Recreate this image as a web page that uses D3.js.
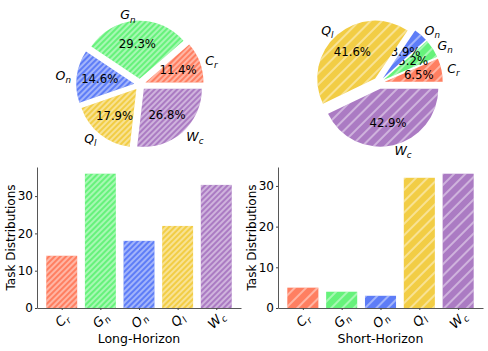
<!DOCTYPE html>
<html><head><meta charset="utf-8">
<script src="https://cdn.jsdelivr.net/npm/d3@7"></script>
<style>body{margin:0;background:#fff}svg{display:block;font-family:"DejaVu Sans",sans-serif}</style>
</head><body><svg id="c" width="488" height="351"></svg>
<script>
const categories = ["C","G","O","Q","W"];
const subscripts = ["r","n","n","l","c"];
const longValues = [14, 36, 18, 22, 33];
const shortValues = [5, 4, 3, 32, 33];
const colors = ["#ff7f61","#66f27b","#5e7df7","#f2cd45","#ab7bc3"];
const yTicks = [0, 10, 20, 30];
const groupTitles = ["Long-Horizon","Short-Horizon"];

const svg = d3.select("#c");
const defs = svg.append("defs");
function hatch(id, s){
  const p = defs.append("pattern").attr("id", id).attr("patternUnits","userSpaceOnUse")
    .attr("width", s).attr("height", s).attr("patternTransform","rotate(45)");
  p.append("line").attr("x1", s/2).attr("x2", s/2).attr("y1", -1).attr("y2", s+1)
    .attr("stroke","#fff").attr("stroke-opacity",0.85).attr("stroke-width",1);
}
hatch("hL", 4);
hatch("hS", 8);

function mathLabel(sel, i, size){
  sel.append("tspan").attr("font-style","italic").text(categories[i]);
  sel.append("tspan").attr("font-style","italic").attr("font-size", size*0.7)
     .attr("dy", size*0.25).text(subscripts[i]);
}

function pie(values, cx, cy, r, hid){
  const g = svg.append("g").attr("transform", `translate(${cx},${cy})`);
  const total = d3.sum(values);
  const arcs = d3.pie().sort(null).startAngle(Math.PI/2).endAngle(Math.PI/2 - 2*Math.PI)(values);
  const arc = d3.arc().innerRadius(0).outerRadius(r);
  arcs.forEach((a, i) => {
    const m = (a.startAngle + a.endAngle)/2;
    const ux = Math.sin(m), uy = -Math.cos(m);
    const ox = 0.1*r*ux, oy = 0.1*r*uy;
    const wg = g.append("g").attr("transform", `translate(${ox},${oy})`);
    wg.append("path").attr("d", arc(a)).attr("fill", colors[i]);
    wg.append("path").attr("d", arc(a)).attr("fill", `url(#${hid})`);
    const lx = 1.1*r*ux, ly = 1.1*r*uy;
    const t = wg.append("text").attr("x", lx).attr("y", ly).attr("dy","0.35em")
      .attr("font-size", 12.5).attr("text-anchor", lx > 0 ? "start" : "end");
    mathLabel(t, i, 12.5);
    wg.append("text").attr("x", 0.6*r*ux).attr("y", 0.6*r*uy).attr("dy","0.35em")
      .attr("font-size", 11.7).attr("text-anchor","middle")
      .text((values[i]/total*100).toFixed(1) + "%");
  });
}

function bars(values, x0, x1, hid, title){
  const yTop = 167, yBase = 308;
  const x = d3.scaleLinear().domain([-0.64, 4.64]).range([x0, x1]);
  const y = d3.scaleLinear().domain([0, d3.max(values)*1.05]).range([yBase, yTop]);
  const g = svg.append("g");
  values.forEach((v, i) => {
    const xa = x(i - 0.4), w = x(i + 0.4) - x(i - 0.4);
    g.append("rect").attr("x", xa).attr("y", y(v)).attr("width", w).attr("height", y(0) - y(v)).attr("fill", colors[i]);
    g.append("rect").attr("x", xa).attr("y", y(v)).attr("width", w).attr("height", y(0) - y(v)).attr("fill", `url(#${hid})`);
  });
  const ya = g.append("g").attr("transform", `translate(${x0},0)`)
    .call(d3.axisLeft(y).tickValues(yTicks).tickSize(2).tickPadding(2).tickSizeOuter(0));
  ya.selectAll("text").attr("font-size", 12).attr("fill","#000").attr("font-family","DejaVu Sans");
  const xa = g.append("g").attr("transform", `translate(0,${yBase})`)
    .call(d3.axisBottom(x).tickValues([0,1,2,3,4]).tickSize(2).tickFormat("").tickSizeOuter(0));
  [ya, xa].forEach(a => { a.select(".domain").attr("stroke","#444").attr("stroke-width",0.9); a.selectAll("line").attr("stroke","#444"); });
  categories.forEach((c, i) => {
    const t = g.append("text").attr("transform", `translate(${x(i)},${320}) rotate(-45)`)
      .attr("text-anchor","middle").attr("dy","0.35em").attr("font-size", 13);
    mathLabel(t, i, 13);
  });
  g.append("text").attr("x", (x0 + x1)/2).attr("y", 343).attr("text-anchor","middle")
    .attr("font-size", 12.5).text(title);
  g.append("text").attr("transform", `translate(${x0 - 22},${(yTop + yBase)/2}) rotate(-90)`)
    .attr("text-anchor","middle").attr("font-size", 12).text("Task Distributions");
}

pie(longValues, 140, 84.5, 58, "hL");
pie(shortValues, 379, 83, 58, "hS");
bars(longValues, 37, 241, "hL", groupTitles[0]);
bars(shortValues, 278, 483, "hS", groupTitles[1]);
</script></body></html>
